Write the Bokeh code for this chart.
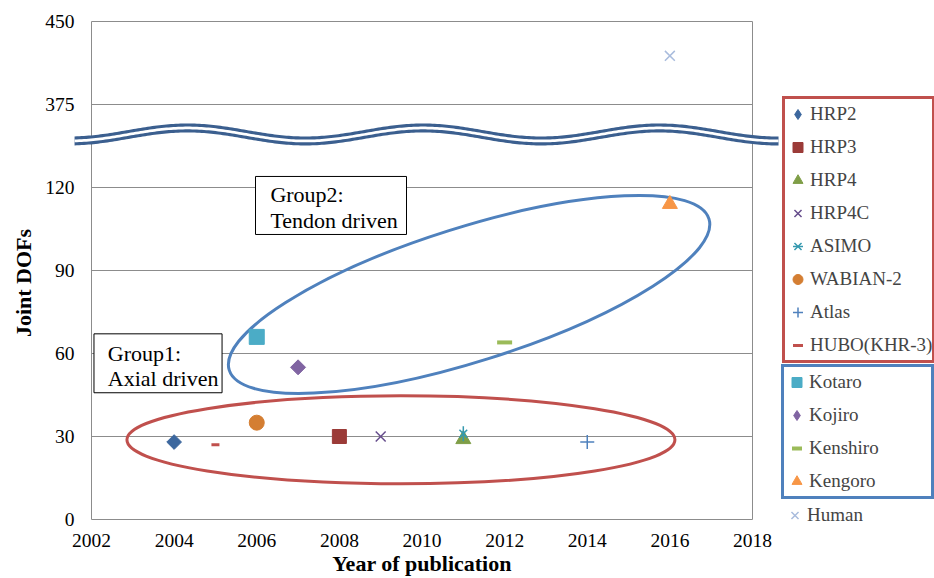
import numpy as np
from bokeh.plotting import figure
from bokeh.models import (Legend, LegendItem, FixedTicker, Label, BoxAnnotation,
                          PolyAnnotation, ColumnDataSource)
from bokeh.embed import file_html
from bokeh.resources import INLINE

# ---------------- data ----------------
robots = ["HRP2", "HRP3", "HRP4", "HRP4C", "ASIMO", "WABIAN-2", "Atlas", "HUBO(KHR-3)",
          "Kotaro", "Kojiro", "Kenshiro", "Kengoro", "Human"]
years = [2004, 2008, 2011, 2009, 2011, 2006, 2014, 2005, 2006, 2007, 2012, 2016, 2016]
dofs = [28, 30, 29, 30, 31, 35, 28, 27, 66, 55, 64, 114, 419]
group1 = ["HRP2", "HRP3", "HRP4", "HRP4C", "ASIMO", "WABIAN-2", "Atlas", "HUBO(KHR-3)"]
group2 = ["Kotaro", "Kojiro", "Kenshiro", "Kengoro"]
others = ["Human"]
y_ticks = [0, 30, 60, 90, 120, 375, 450]
x_ticks = [2002, 2004, 2006, 2008, 2010, 2012, 2014, 2016, 2018]

FONT = "Liberation Serif"
GRID = "#8C8C8C"


def yd(v):
    """broken y axis: each tick value sits one display unit above the previous"""
    return float(np.interp(v, y_ticks, list(range(len(y_ticks)))))


styles = {
    "HRP2": [dict(marker="square", size=10.4, angle=np.pi / 4, fill_color="#3C679E", line_color="#3C679E", line_width=1)],
    "HRP3": [dict(marker="square", size=14, angle=0, fill_color="#9B3B38", line_color="#9B3B38", line_width=1)],
    "HRP4": [dict(marker="triangle", size=15, angle=0, fill_color="#7F9E47", line_color="#7F9E47", line_width=1)],
    "HRP4C": [dict(marker="x", size=14, angle=0, fill_color=None, line_color="#664D8C", line_width=1.5)],
    "ASIMO": [dict(marker="x", size=11, angle=0, fill_color=None, line_color="#3599AF", line_width=1.5),
              dict(marker="dash", size=15, angle=np.pi / 2, fill_color=None, line_color="#3599AF", line_width=1.5)],
    "WABIAN-2": [dict(marker="circle", size=15, angle=0, fill_color="#D47E32", line_color="#D47E32", line_width=1)],
    "Atlas": [dict(marker="cross", size=14, angle=0, fill_color=None, line_color="#4F81BD", line_width=1.5)],
    "HUBO(KHR-3)": [dict(marker="dash", size=8, angle=0, fill_color=None, line_color="#C0504D", line_width=3)],
    "Kotaro": [dict(marker="square", size=15, angle=0, fill_color="#4BACC6", line_color="#4BACC6", line_width=1)],
    "Kojiro": [dict(marker="square", size=10.6, angle=np.pi / 4, fill_color="#8064A2", line_color="#8064A2", line_width=1)],
    "Kenshiro": [dict(marker="dash", size=15, angle=0, fill_color=None, line_color="#9BBB59", line_width=4)],
    "Kengoro": [dict(marker="triangle", size=15, angle=0, fill_color="#F79646", line_color="#F79646", line_width=1)],
    "Human": [dict(marker="x", size=14, angle=0, fill_color=None, line_color="#A9BCDD", line_width=1.5)],
}

# ---------------- figure ----------------
# The frame covers the whole canvas so that legends / break marks outside the
# plotting area are not clipped; axes are pinned with fixed_location.
PX_PER_YEAR = 41.3125
PX_PER_UNIT = 83.0
x0 = x_ticks[0] - 91 / PX_PER_YEAR
x1 = x_ticks[0] + (934 - 91) / PX_PER_YEAR
y0 = -(578 - 519) / PX_PER_UNIT
y1 = 519 / PX_PER_UNIT

p = figure(width=934, height=578, x_range=(x0, x1), y_range=(y0, y1),
           min_border_left=0, min_border_right=0, min_border_top=0, min_border_bottom=0,
           output_backend="svg", toolbar_location=None)
p.background_fill_color = "white"
p.border_fill_color = "white"
p.outline_line_color = None
p.xgrid.visible = False
p.ygrid.visible = False

p.xaxis.ticker = FixedTicker(ticks=x_ticks)
p.yaxis.ticker = FixedTicker(ticks=list(range(len(y_ticks))))
p.yaxis.major_label_overrides = {i: str(v) for i, v in enumerate(y_ticks)}
p.xaxis.fixed_location = 0
p.yaxis.fixed_location = x_ticks[0]
p.xaxis.bounds = (x_ticks[0], x_ticks[-1])
p.yaxis.bounds = (0, len(y_ticks) - 1)
p.axis.axis_line_color = GRID
p.axis.axis_line_width = 1
p.axis.major_tick_out = 0
p.axis.major_tick_in = 0
p.axis.minor_tick_out = 0
p.axis.minor_tick_in = 0
p.axis.major_label_text_font = FONT
p.axis.major_label_text_font_size = "19.5px"
p.axis.major_label_text_color = "black"
p.yaxis.major_label_standoff = 17
p.xaxis.major_label_standoff = 14

# horizontal grid lines and right border of the plotting area
gy = list(range(1, len(y_ticks)))
p.segment(x0=[x_ticks[0]] * len(gy), x1=[x_ticks[-1]] * len(gy), y0=gy, y1=gy,
          line_color=GRID, line_width=1)
p.segment(x0=[x_ticks[-1]], x1=[x_ticks[-1]], y0=[0], y1=[len(y_ticks) - 1],
          line_color=GRID, line_width=1)

# group ellipses
p.ellipse(x=[2009.49], y=[0.96], width=548, height=88, width_units="screen",
          height_units="screen", fill_color=None, line_color="#C0504D", line_width=3)
p.ellipse(x=[2011.14], y=[2.711], width=503, height=134, angle=np.radians(17.5),
          width_units="screen", height_units="screen", fill_color=None,
          line_color="#4F81BD", line_width=3)

# markers
rmap = {}
for name, yr, dof in zip(robots, years, dofs):
    src = ColumnDataSource(dict(x=[yr], y=[yd(dof)]))
    rs = []
    for st in styles[name]:
        rs.append(p.scatter(x="x", y="y", source=src, **st))
    rmap[name] = rs

# legend swatches: rotated squares are not rotated inside a legend, so the two
# diamond entries get a (non-plotted) diamond swatch
for name in ("HRP2", "Kojiro"):
    st = dict(styles[name][0])
    st.update(marker="diamond", angle=0)
    rmap[name] = [p.scatter(x=[np.nan], y=[np.nan], **st)]

# axis break (double wavy line)
wx = np.linspace(2001.59, 2018.63, 300)
wy = 4.639 + 0.0783 * np.cos(2 * np.pi * (wx - 2004.32) / 5.713)
for half, col in ((0.0542, "#3B5F8F"), (0.0165, "white")):
    p.add_layout(PolyAnnotation(xs=list(wx) + list(wx[::-1]),
                                ys=list(wy + half) + list((wy - half)[::-1]),
                                fill_color=col, fill_alpha=1, line_alpha=0))

# group text boxes
p.add_layout(BoxAnnotation(left=2005.97, right=2009.625, top=4.133, bottom=3.434,
                           fill_color="white", fill_alpha=1, line_color="black",
                           line_alpha=1, line_width=1))
p.add_layout(BoxAnnotation(left=2002.06, right=2005.16, top=2.237, bottom=1.527,
                           fill_color="white", fill_alpha=1, line_color="black",
                           line_alpha=1, line_width=1))
for txt, x, y in (("Group2:", 2006.33, 3.915), ("Tendon driven", 2006.33, 3.604),
                  ("Group1:", 2002.395, 1.997), ("Axial driven", 2002.395, 1.696)):
    p.add_layout(Label(x=x, y=y, text=txt, text_font=FONT, text_font_size="22px",
                       text_align="left", text_baseline="alphabetic", text_color="black"))

# axis titles
p.add_layout(Label(x=2000.342, y=2.849, text="Joint DOFs", angle=np.pi / 2,
                   text_font=FONT, text_font_size="22px", text_font_style="bold",
                   text_align="center", text_baseline="middle", text_color="black"))
p.add_layout(Label(x=2010, y=-0.531, text="Year of publication",
                   text_font=FONT, text_font_size="22px", text_font_style="bold",
                   text_align="center", text_baseline="alphabetic", text_color="black"))

# legends (location = bottom-left corner in screen px from the canvas bottom-left)
common = dict(orientation="vertical", padding=0, spacing=3, margin=0,
              glyph_width=25, glyph_height=30, label_height=30, label_standoff=0,
              label_width=122,
              label_text_font=FONT, label_text_font_size="19px",
              background_fill_color="white", background_fill_alpha=1)
leg1 = Legend(items=[LegendItem(label=n, renderers=rmap[n]) for n in group1],
              location=(782, 215.3), border_line_color="#C0504D", border_line_width=3,
              border_line_alpha=1, **common)
leg2 = Legend(items=[LegendItem(label=n, renderers=rmap[n]) for n in group2],
              location=(781, 79), border_line_color="#4F81BD", border_line_width=3,
              border_line_alpha=1, **common)
leg3 = Legend(items=[LegendItem(label=n, renderers=rmap[n]) for n in others],
              location=(782, 48), border_line_alpha=0, **common)
for lg in (leg1, leg2, leg3):
    p.add_layout(lg)

open("out.html", "w").write(file_html(p, INLINE))
